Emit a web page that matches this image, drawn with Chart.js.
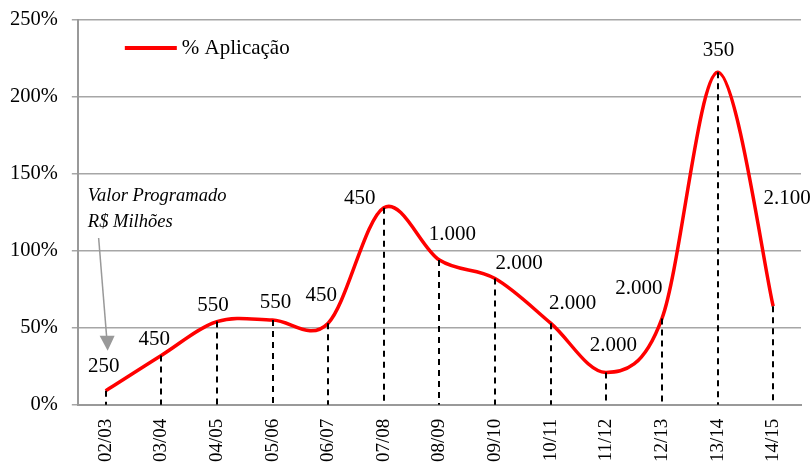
<!DOCTYPE html>
<html>
<head>
<meta charset="utf-8">
<script src="https://cdn.jsdelivr.net/npm/chart.js@4"></script>
<style>
  body { margin: 0; background: #fff; }
  #wrap { width: 811px; height: 465px; }
</style>
</head>
<body>
<div id="wrap"><canvas id="myChart" width="811" height="465"></canvas></div>
<script>
let periods = ["02/03", "03/04", "04/05", "05/06", "06/07", "07/08", "08/09", "09/10", "10/11", "11/12", "12/13", "13/14", "14/15"];
let aplicacao = [9, 32, 54, 55, 53, 128, 94, 82, 53, 21, 56, 216, 64];
let valorProgramado = ["250", "450", "550", "550", "450", "450", "1.000", "2.000", "2.000", "2.000", "2.000", "350", "2.100"];
let yTicks = [0, 50, 100, 150, 200, 250];

// where each value label sits around its point (dx, dy in px)
let labelPlace = [
  [-2, -24], [-7, -16], [-4, -16], [3, -18], [-7, -28], [-24, -9],
  [13, -26], [24, -15], [22, -20], [7, -27], [-23, -30], [1, -22], [14, -108]
];

let serif = "'Liberation Serif', 'Times New Roman', serif";

// excel-like smoothing: catmull-rom control points
let excelSmooth = {
  id: "excelSmooth",
  beforeDatasetDraw(chart, args) {
    let meta = args.meta;
    let line = meta.dataset;
    if (line && line.updateControlPoints) line.updateControlPoints(chart.chartArea, "x");
    let pts = meta.data;
    for (let i = 0; i < pts.length; i++) {
      let p = pts[i];
      let prev = pts[Math.max(i - 1, 0)];
      let next = pts[Math.min(i + 1, pts.length - 1)];
      let tx = (next.x - prev.x) / 6;
      let ty = (next.y - prev.y) / 6;
      p.cp1x = p.x - tx;
      p.cp1y = p.y - ty;
      p.cp2x = p.x + tx;
      p.cp2y = p.y + ty;
    }
  },
};

let dropLines = {
  id: "dropLines",
  afterDatasetsDraw(chart) {
    let ctx = chart.ctx;
    let meta = chart.getDatasetMeta(0);
    let bottom = chart.scales.y.getPixelForValue(0);
    ctx.save();
    ctx.strokeStyle = "#000";
    ctx.lineWidth = 2;
    ctx.setLineDash([6, 5]);
    meta.data.forEach((pt) => {
      ctx.beginPath();
      ctx.moveTo(Math.round(pt.x), pt.y);
      ctx.lineTo(Math.round(pt.x), bottom);
      ctx.stroke();
    });
    ctx.restore();
  },
};

let valueLabels = {
  id: "valueLabels",
  afterDraw(chart) {
    let ctx = chart.ctx;
    let meta = chart.getDatasetMeta(0);
    ctx.save();
    ctx.fillStyle = "#000";
    ctx.font = "21px " + serif;
    ctx.textAlign = "center";
    ctx.textBaseline = "middle";
    meta.data.forEach((pt, i) => {
      let p = labelPlace[i];
      ctx.fillText(valorProgramado[i], pt.x + p[0], pt.y + p[1]);
    });
    ctx.restore();
  },
};

let insideLegend = {
  id: "insideLegend",
  afterDraw(chart) {
    let ctx = chart.ctx;
    let a = chart.chartArea;
    let ds = chart.data.datasets[0];
    let y = a.top + 28;
    ctx.save();
    ctx.strokeStyle = ds.borderColor;
    ctx.lineWidth = 4;
    ctx.beginPath();
    ctx.moveTo(a.left + 47, y);
    ctx.lineTo(a.left + 99, y);
    ctx.stroke();
    ctx.fillStyle = "#000";
    ctx.font = "21px " + serif;
    ctx.textBaseline = "middle";
    ctx.fillText(ds.label, a.left + 104, y);

    // note + arrow pointing to first value
    let x0 = chart.scales.x.getPixelForValue(0);
    ctx.font = "italic 18.5px " + serif;
    ctx.fillText("Valor Programado", a.left + 10, 196);
    ctx.fillText("R$ Milhões", a.left + 10, 222);
    ctx.strokeStyle = "#999";
    ctx.fillStyle = "#999";
    ctx.lineWidth = 1.5;
    let tipY = chart.scales.y.getPixelForValue(35);
    ctx.beginPath();
    ctx.moveTo(x0 - 7, 238);
    ctx.lineTo(x0 + 1, tipY - 14);
    ctx.stroke();
    ctx.beginPath();
    ctx.moveTo(x0 + 2, tipY);
    ctx.lineTo(x0 - 6, tipY - 15);
    ctx.lineTo(x0 + 9, tipY - 15);
    ctx.closePath();
    ctx.fill();
    ctx.restore();
  },
};

let init = () => {
  let ctx = document.getElementById("myChart");
  new Chart(ctx, {
    type: "line",
    data: {
      labels: periods,
      datasets: [
        {
          label: "% Aplicação",
          data: aplicacao,
          borderColor: "#ff0000",
          borderWidth: 3.5,
          tension: 0.4,
          pointRadius: 0,
          fill: false,
        },
      ],
    },
    options: {
      responsive: false,
      animation: false,
      layout: { padding: { top: 20, right: 10, left: -4, bottom: -11 } },
      plugins: { legend: { display: false }, tooltip: { enabled: false } },
      scales: {
        x: {
          offset: true,
          grid: { display: false, drawTicks: false },
          border: { color: "#999", width: 2 },
          ticks: {
            color: "#000",
            font: { family: serif, size: 19 },
            maxRotation: 90,
            minRotation: 90,
            padding: 14,
          },
        },
        y: {
          min: 0,
          max: 250,
          afterBuildTicks: (axis) => {
            axis.ticks = yTicks.map((v) => ({ value: v }));
          },
          afterFit: (axis) => {
            axis.paddingTop = 0;
          },
          grid: { color: "#a6a6a6", lineWidth: 1.5, tickLength: 6 },
          border: { color: "#999", width: 2 },
          ticks: {
            color: "#000",
            font: { family: serif, size: 20.5 },
            padding: 14,
            callback: (v) => v + "%",
          },
        },
      },
    },
    plugins: [excelSmooth, dropLines, valueLabels, insideLegend],
  });
};
window.onload = init;
</script>
</body>
</html>
